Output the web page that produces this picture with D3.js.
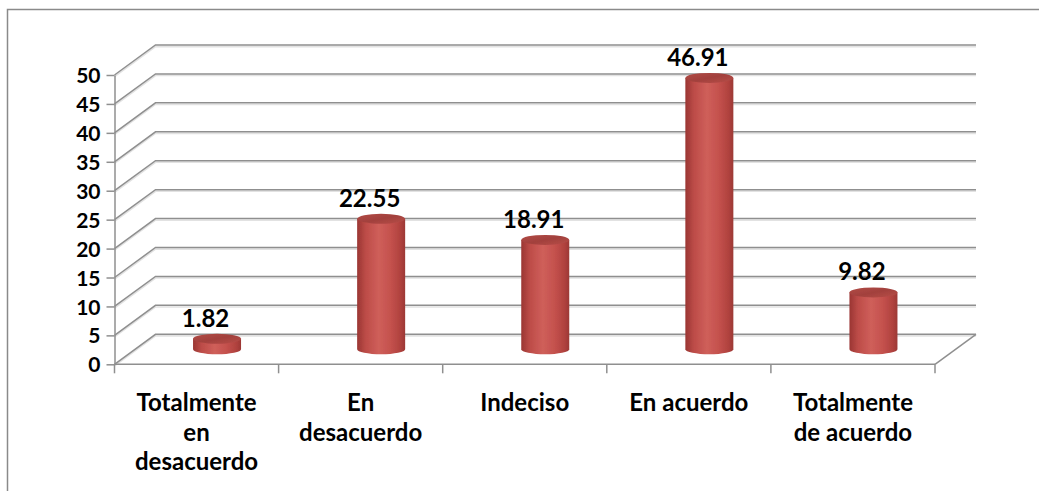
<!DOCTYPE html>
<html>
<head>
<meta charset="utf-8">
<script src="https://cdn.jsdelivr.net/npm/d3@7"></script>
<style>
  html, body { margin: 0; padding: 0; background: #fff; }
  svg { display: block; }
  text { font-family: Lato, "Open Sans", sans-serif; font-weight: 700; fill: #000; }
</style>
</head>
<body>
<svg id="chart" width="1039" height="491"></svg>
<script>
// Survey answers (percent of respondents)
const categories = ["Totalmente en desacuerdo", "En desacuerdo", "Indeciso", "En acuerdo", "Totalmente de acuerdo"];
const values = [1.82, 22.55, 18.91, 46.91, 9.82];
const yTicks = [0, 5, 10, 15, 20, 25, 30, 35, 40, 45, 50];

const svg = d3.select("#chart");
const W = 1039, H = 491;

// frame
svg.append("rect")
  .attr("x", 7.5).attr("y", 9.5)
  .attr("width", W + 10).attr("height", H + 10)
  .attr("fill", "#fff").attr("stroke", "#8a8a8a").attr("stroke-width", 1.5);

// 3D geometry: front plane and depth offset
const x0 = 114.5, x1 = 935;
const depth = { dx: 41, dy: -30 };
const y = d3.scaleLinear().domain([0, 50]).range([364.3, 75]);
const x = d3.scaleBand().domain(categories).range([x0, x1]).paddingInner(0).paddingOuter(0);

const gridColor = "#8f8f8f";

// back wall and side wall gridlines
const grid = svg.append("g");
yTicks.forEach(t => {
  const fy = y(t), by = y(t) + depth.dy;
  // soft shadow under each line
  grid.append("path")
    .attr("d", `M${x0},${fy + 1.6}L${x0 + depth.dx},${by + 1.6}H${x1 + depth.dx}`)
    .attr("fill", "none").attr("stroke", "#e2e2e2").attr("stroke-width", 1.6);
  grid.append("path")
    .attr("d", `M${x0},${fy}L${x0 + depth.dx},${by}H${x1 + depth.dx}`)
    .attr("fill", "none").attr("stroke", gridColor).attr("stroke-width", 1.5);
});

// floor outline (front edge drawn by the category axis)
grid.append("path")
  .attr("d", `M${x1},${y(0)}L${x1 + depth.dx},${y(0) + depth.dy}`)
  .attr("fill", "none").attr("stroke", gridColor).attr("stroke-width", 1.5);

// value axis on the front plane
const yAxis = d3.axisLeft(y).tickValues(yTicks).tickSize(8).tickSizeOuter(0).tickPadding(6);
const yg = svg.append("g").attr("transform", `translate(${x0},0)`).call(yAxis);
yg.select(".domain").attr("stroke", gridColor).attr("stroke-width", 1.5);
yg.selectAll(".tick line").attr("stroke", gridColor).attr("stroke-width", 1.5);
yg.selectAll(".tick text")
  .attr("font-size", 21).attr("font-family", "Lato, sans-serif").attr("font-weight", 700)
  .attr("fill", "#000").attr("dy", "0.36em");

// category axis: line plus ticks at the band boundaries
const xg = svg.append("g");
xg.append("line")
  .attr("x1", x0).attr("x2", x1).attr("y1", y(0)).attr("y2", y(0))
  .attr("stroke", gridColor).attr("stroke-width", 1.5);
const bounds = categories.map(c => x(c)).concat([x1]);
xg.selectAll("line.tick").data(bounds).join("line")
  .attr("class", "tick")
  .attr("x1", d => d).attr("x2", d => d)
  .attr("y1", y(0)).attr("y2", y(0) + 9)
  .attr("stroke", gridColor).attr("stroke-width", 1.5);

// wrapped category labels
const labelFont = 24, wrapWidth = 135, lineH = 29.5;
const measure = svg.append("text").attr("font-size", labelFont).attr("visibility", "hidden");
function wrap(str) {
  const words = str.split(" ");
  const lines = [];
  let cur = "";
  words.forEach(w => {
    const trial = cur ? cur + " " + w : w;
    measure.text(trial);
    if (cur && measure.node().getComputedTextLength() > wrapWidth) {
      lines.push(cur);
      cur = w;
    } else cur = trial;
  });
  if (cur) lines.push(cur);
  return lines;
}
categories.forEach(c => {
  const t = xg.append("text")
    .attr("text-anchor", "middle")
    .attr("font-size", labelFont)
    .attr("x", x(c) + x.bandwidth() / 2)
    .attr("y", 411);
  wrap(c).forEach((ln, i) => {
    t.append("tspan").attr("x", x(c) + x.bandwidth() / 2).attr("dy", i ? lineH : 0).text(ln);
  });
});
measure.remove();

// cylinder shading
const defs = svg.append("defs");
const bodyGrad = defs.append("linearGradient").attr("id", "cylBody").attr("x1", 0).attr("x2", 1).attr("y1", 0).attr("y2", 0);
[[0, "#9a3633"], [0.18, "#bd4c48"], [0.45, "#cf5f5a"], [0.7, "#c4514d"], [0.9, "#b0423e"], [1, "#9c3835"]]
  .forEach(([o, c]) => bodyGrad.append("stop").attr("offset", o).attr("stop-color", c));
const capGrad = defs.append("linearGradient").attr("id", "cylTop").attr("x1", 0).attr("x2", 1).attr("y1", 0).attr("y2", 1);
[[0, "#b24a46"], [0.5, "#a2413d"], [1, "#b84c48"]]
  .forEach(([o, c]) => capGrad.append("stop").attr("offset", o).attr("stop-color", c));
defs.append("filter").attr("id", "soft").append("feGaussianBlur").attr("stdDeviation", 0.6);

// bars as cylinders standing at mid depth
const barW = 48, ry = 5;
const midDx = depth.dx / 2, midDy = depth.dy / 2;
const bars = svg.append("g").attr("filter", "url(#soft)");
categories.forEach((c, i) => {
  const cx = x(c) + x.bandwidth() / 2 + midDx;
  const yb = y(0) + midDy;
  const yt = y(values[i]) + midDy;
  const rx = barW / 2;
  bars.append("path")
    .attr("d", `M${cx - rx},${yt}V${yb}A${rx},${ry} 0 0 0 ${cx + rx},${yb}V${yt}Z`)
    .attr("fill", "url(#cylBody)");
  bars.append("ellipse")
    .attr("cx", cx).attr("cy", yt).attr("rx", rx).attr("ry", ry)
    .attr("fill", "url(#cylTop)");
});

// value labels
svg.append("g").selectAll("text").data(values).join("text")
  .attr("text-anchor", "middle")
  .attr("font-size", 24)
  .attr("x", (d, i) => x(categories[i]) + x.bandwidth() / 2 + 9)
  .attr("y", d => y(d) + midDy - 12)
  .text(d => d.toFixed(2));
</script>
</body>
</html>
